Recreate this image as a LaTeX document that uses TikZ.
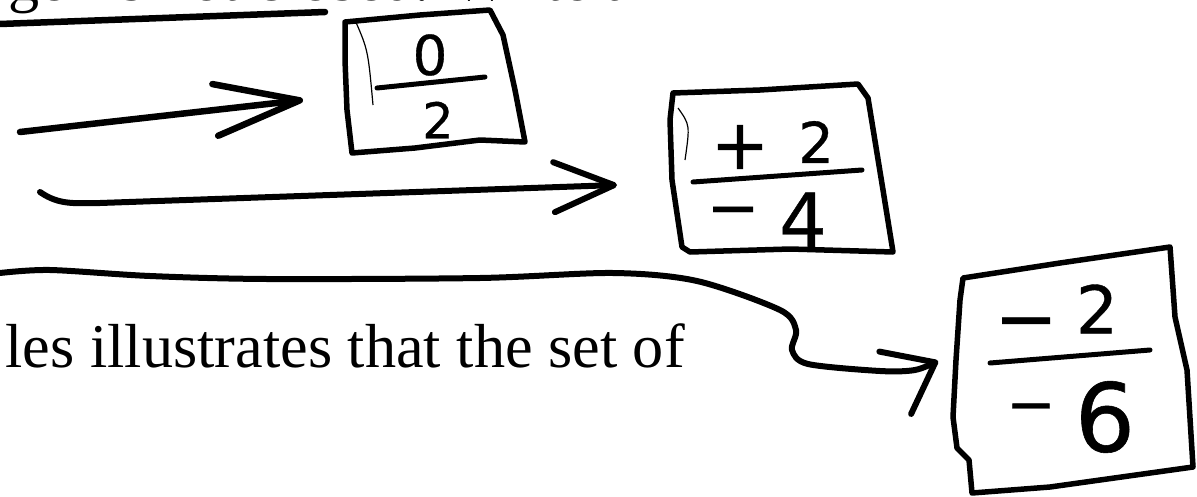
\documentclass[tikz,border=0pt]{standalone}
\usepackage{fontspec}
\setmainfont{Liberation Serif}
\newfontfamily\handfont[FakeBold=0.6]{DejaVu Sans}
\usepackage{tikz}
\usetikzlibrary{arrows.meta}

\begin{document}
\begin{tikzpicture}[
    x=0.1mm, y=-0.1mm,
    pen/.style={line width=0.6mm, line cap=round, line join=round},
    card/.style={line width=0.55mm, line join=round, line cap=round},
    fold/.style={line width=0.12mm},
    bar/.style={line width=0.5mm, line cap=round},
    dig/.style={font=\handfont\fontsize{#1}{#1}\selectfont, inner sep=0pt},
    body/.style={font=\fontsize{17.7}{21}\selectfont, inner sep=0pt, anchor=base west}
  ]
    \useasboundingbox (0,0) rectangle (1197,496);
    \clip (0,0) rectangle (1197,496);

    % printed text, cut by the page
    \node[body] (top) at (8,1) {ger is not closed. Write an};
    \node[body] (bot) at (5,367) {les illustrates that the set of};

    % cards
    \draw[card] (345,22) -- (420,15) -- (490,10) -- (503,35) -- (515,90) -- (525,142)
      -- (480,140) -- (415,148) -- (352,153) -- (347,110) -- (345,60) -- cycle;
    \draw[fold] (355,20) .. controls (368,50) .. (373,105);
    \draw[card] (673,93) -- (760,90) -- (858,84) -- (868,98) -- (883,190) -- (893,252)
      -- (790,249) -- (690,252) -- (682,247) -- (672,180) -- (670,120) -- cycle;
    \draw[fold] (678,108) .. controls (690,125) .. (685,160);
    \draw[card] (963,278) -- (1060,263) -- (1170,247) -- (1175,317) -- (1187,370) -- (1193,467)
      -- (1050,487) -- (972,493) -- (969,460) -- (957,448) -- (953,417) -- (956,360) -- (960,300) -- cycle;

    \node[dig=15.6] (n1) at (430,55) {0};
    \draw[bar] (377,88) -- (485,77);
    \node[dig=14] (d1) at (438,120) {2};

    \node[dig=19.9] (s2n) at (740,147) {+};
    \node[dig=16] (n2) at (816,142) {2};
    \draw[bar] (693,182) -- (862,170);
    \node[dig=18] (s2d) at (733,218) {−};
    \node[dig=21.4] (d2) at (803,220) {4};

    \node[dig=21.6] (s3n) at (1026,331) {−};
    \node[dig=18.8] (n3) at (1097,309) {2};
    \draw[bar] (990,363) -- (1150,350);
    \node[dig=16.7] (s3d) at (1031,414) {−};
    \node[dig=27] (d3) at (1105,417) {6};

    % hand arrows
    \coordinate (u0) at (0,24);
    \coordinate (u1) at (325,12);
    \draw[pen, line width=0.65mm] (u0) -- (u1);

    \coordinate (a1) at (20,132);
    \coordinate (t1) at (303,100);
    \draw[pen, line width=0.65mm, -{Straight Barb[length=8.5mm, width=5.2mm, round]}] (a1) -- (t1);

    \coordinate (a2) at (40,192);
    \coordinate (t2) at (617,185);
    \draw[pen, -{Straight Barb[length=6mm, width=5mm, round]}]
      (a2) to[out=-35, in=180] (100,203) -- (t2);

    \coordinate (w0) at (0,273);
    \coordinate (t3) at (938,361);
    \draw[pen, -{Straight Barb[length=4.5mm, width=7mm, round]}]
      plot[smooth, tension=0.5] coordinates {(w0) (50,270) (150,276) (267,279) (480,278)
        (613,273) (697,281) (780,310) (796,330) (792,350) (808,364) (880,371) (915,370) (t3)};
\end{tikzpicture}
\end{document}
